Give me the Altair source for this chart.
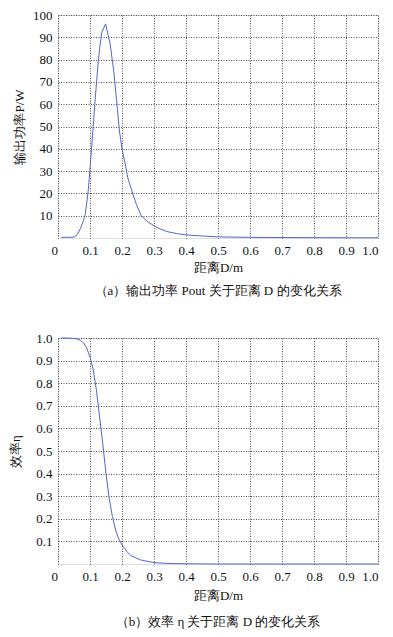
import altair as alt
import pandas as pd

# Panel (a): output power P (W) vs distance D (m)
d_p = [0.01, 0.03, 0.05, 0.06, 0.07, 0.08, 0.085, 0.09, 0.095, 0.10, 0.105, 0.11,
       0.115, 0.12, 0.125, 0.13, 0.137, 0.149, 0.155, 0.163, 0.174, 0.183, 0.192,
       0.20, 0.208, 0.218, 0.234, 0.245, 0.26, 0.28, 0.30, 0.32, 0.34, 0.37, 0.40,
       0.45, 0.50, 0.60, 0.70, 0.80, 0.90, 1.00]
p_val = [0.3, 0.3, 0.4, 1.5, 4.2, 8.0, 10.5, 16.0, 22.0, 31.0, 40.5, 50.0,
         60.0, 69.0, 78.0, 85.0, 92.3, 96.0, 92.0, 87.0, 75.0, 62.0, 48.0,
         40.0, 34.6, 27.0, 19.7, 15.0, 10.0, 7.3, 5.5, 4.0, 2.9, 2.0, 1.4,
         0.9, 0.5, 0.3, 0.2, 0.15, 0.1, 0.1]

# Panel (b): efficiency eta vs distance D (m)
d_e = [0.01, 0.03, 0.05, 0.06, 0.07, 0.08, 0.09, 0.10, 0.11, 0.12, 0.13, 0.14,
       0.15, 0.16, 0.17, 0.18, 0.19, 0.20, 0.215, 0.228, 0.258, 0.30, 0.35,
       0.40, 0.50, 0.60, 0.70, 0.80, 0.90, 1.00]
eta = [1.0, 1.0, 0.998, 0.995, 0.99, 0.978, 0.955, 0.915, 0.86, 0.77, 0.65, 0.53,
       0.40, 0.29, 0.21, 0.15, 0.11, 0.085, 0.055, 0.037, 0.018, 0.006, 0.002,
       0.001, 0.0, 0.0, 0.0, 0.0, 0.0, 0.0]

x_ticks = [0, 0.1, 0.2, 0.3, 0.4, 0.5, 0.6, 0.7, 0.8, 0.9, 1.0]
p_ticks = [10, 20, 30, 40, 50, 60, 70, 80, 90, 100]
e_ticks = [0.1, 0.2, 0.3, 0.4, 0.5, 0.6, 0.7, 0.8, 0.9, 1.0]

FONT = "Liberation Serif"
LINE = "#5a63c9"
W = 320


def x_axis(title_pad):
    return alt.Axis(
        values=x_ticks,
        labelExpr="datum.value == 0 ? '0' : format(datum.value, '.1f')",
        labelOffset={"condition": {"test": "datum.value == 0", "value": -7}, "value": 0},
        ticks=False, domain=False, labelPadding=6, titlePadding=title_pad,
        grid=True, gridDash=[1, 1.5], gridColor="#333333", gridOpacity=0.85,
        labelFont=FONT, titleFont=FONT, labelFontSize=13, titleFontSize=13,
        titleFontWeight="normal", labelColor="#111111", titleColor="#111111",
    )


def y_axis(vals, fmt, title, title_pad):
    return alt.Axis(
        values=vals, format=fmt, title=title,
        ticks=False, domain=False, labelPadding=6, titlePadding=title_pad,
        grid=True, gridDash=[1, 1.5], gridColor="#333333", gridOpacity=0.85,
        labelFont=FONT, titleFont=FONT, labelFontSize=13, titleFontSize=13,
        titleFontWeight="normal", labelColor="#111111", titleColor="#111111",
    )


top = alt.Chart(pd.DataFrame({"D": d_p, "P": p_val})).mark_line(
    color=LINE, strokeWidth=1
).encode(
    x=alt.X("D:Q", scale=alt.Scale(domain=[0, 1], nice=False), axis=x_axis(4), title="距离D/m"),
    y=alt.Y("P:Q", scale=alt.Scale(domain=[0, 100], nice=False),
            axis=y_axis(p_ticks, "d", "输出功率P/W", 6)),
).properties(
    width=W, height=223,
    title=alt.TitleParams("（a）输出功率 Pout 关于距离 D 的变化关系", orient="bottom",
                          font=FONT, fontSize=13, fontWeight="normal", color="#111111",
                          offset=11, anchor="middle"),
)

bottom = alt.Chart(pd.DataFrame({"D": d_e, "eta": eta})).mark_line(
    color=LINE, strokeWidth=1
).encode(
    x=alt.X("D:Q", scale=alt.Scale(domain=[0, 1], nice=False), axis=x_axis(6), title="距离D/m"),
    y=alt.Y("eta:Q", scale=alt.Scale(domain=[0, 1], nice=False),
            axis=y_axis(e_ticks, ".1f", "效率η", 13)),
).properties(
    width=W, height=226,
    title=alt.TitleParams("（b）效率 η 关于距离 D 的变化关系", orient="bottom",
                          font=FONT, fontSize=13, fontWeight="normal", color="#111111",
                          offset=14, anchor="middle"),
)

chart = alt.vconcat(top, bottom, spacing=32).properties(
    padding={"left": 1, "top": 0, "right": 4, "bottom": 4},
).configure_view(stroke="#808080", strokeWidth=1).configure(background="white")

chart.save("out.html", embed_options={"renderer": "svg", "actions": False})
